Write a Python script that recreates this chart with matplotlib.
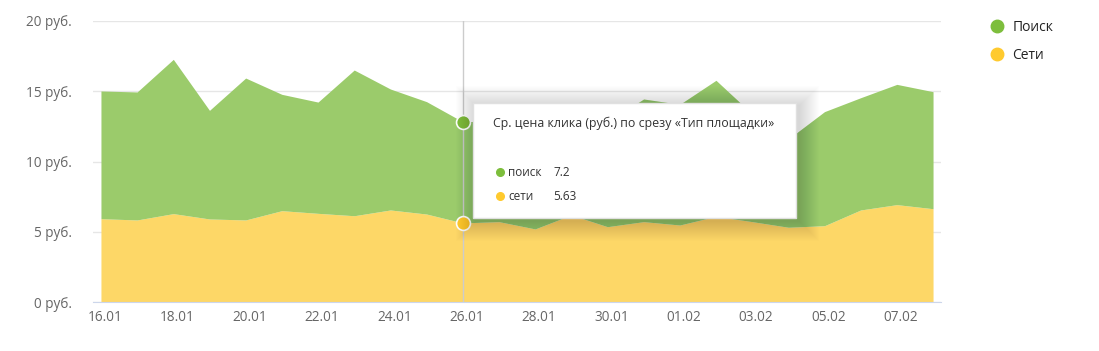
import matplotlib
matplotlib.use("Agg")
import matplotlib.pyplot as plt
import matplotlib.transforms as mtransforms
from matplotlib.patches import Rectangle
from matplotlib.lines import Line2D
import numpy as np

plt.rcParams['font.family'] = ['Open Sans', 'DejaVu Sans']

# dates 16.01 .. 08.02
dates = ['16.01', '17.01', '18.01', '19.01', '20.01', '21.01', '22.01', '23.01',
         '24.01', '25.01', '26.01', '27.01', '28.01', '29.01', '30.01', '31.01',
         '01.02', '02.02', '03.02', '04.02', '05.02', '06.02', '07.02', '08.02']
# average click price, networks (bottom layer)
seti = [5.93, 5.84, 6.29, 5.91, 5.84, 6.50, 6.31, 6.14, 6.55, 6.26, 5.63, 5.72,
        5.20, 6.20, 5.36, 5.72, 5.48, 6.10, 5.72, 5.32, 5.43, 6.55, 6.93, 6.64]
# average click price, search (stacked on top)
poisk = [9.09, 9.11, 10.98, 7.73, 10.10, 8.28, 7.92, 10.37, 8.61, 8.00, 7.20, 7.18,
         7.20, 7.10, 7.44, 8.73, 8.59, 9.68, 7.67, 6.28, 8.12, 7.99, 8.56, 8.33]
series_names = ['Поиск', 'Сети']
yticks = [0, 5, 10, 15, 20]
hover_idx = 10
tooltip_title = 'Ср. цена клика (руб.) по срезу «Тип площадки»'

green_fill = '#9bcb6b'
yellow_fill = '#fdd767'
green = '#7dbe3c'
yellow = '#ffca2e'

W, H = 1099, 351
fig = plt.figure(figsize=(W / 100, H / 100), dpi=100)
ax = fig.add_axes([93 / W, (H - 302) / H, (941 - 93) / W, (302 - 21) / H])

x = np.arange(len(dates))
seti_a = np.array(seti)
total = seti_a + np.array(poisk)

ax.fill_between(x, 0, seti_a, color=yellow_fill, lw=0, zorder=2)
ax.fill_between(x, seti_a, total, color=green_fill, lw=0, zorder=2)

ax.set_xlim(-0.22, len(dates) - 1 + 0.22)
ax.set_ylim(0, 20)
ax.set_yticks(yticks)
ax.set_yticklabels([f'{v} руб.' for v in yticks])
ax.set_xticks(x[::2])
ax.set_xticklabels(dates[::2])
ax.grid(axis='y', color='#e6e6e6', lw=1, zorder=3)
for s in ['top', 'right', 'left']:
    ax.spines[s].set_visible(False)
ax.spines['bottom'].set_color('#ccd6eb')
ax.spines['bottom'].set_zorder(4)
ax.tick_params(axis='both', length=0, colors='#666666', labelsize=9.8)
ax.tick_params(axis='y', pad=15)
ax.tick_params(axis='x', pad=6)
off = mtransforms.ScaledTranslation(4 / 100, 0, fig.dpi_scale_trans)
for lab in ax.get_xticklabels():
    lab.set_transform(lab.get_transform() + off)

# hover crosshair and markers
ax.axvline(hover_idx, color='#cccccc', lw=1, zorder=5)
ax.plot([hover_idx], [total[hover_idx]], 'o', ms=10, mfc=green, mec='white', mew=1.2, zorder=6)
ax.plot([hover_idx], [seti[hover_idx]], 'o', ms=10, mfc=yellow, mec='white', mew=1.2, zorder=6)

# tooltip with soft shadow
tx0, ty0, tx1, ty1 = 473, 103, 796, 218
for i in range(20, 0, -1):
    fig.patches.append(Rectangle(((tx0 - i + 3) / W, (H - ty1 - i - 3) / H),
                                 (tx1 - tx0 + i * 2) / W, (ty1 - ty0 + i * 2) / H,
                                 transform=fig.transFigure, color='black',
                                 alpha=0.007, lw=0, zorder=7))
fig.patches.append(Rectangle((tx0 / W, (H - ty1) / H), (tx1 - tx0) / W, (ty1 - ty0) / H,
                             transform=fig.transFigure, facecolor='white',
                             edgecolor='#e0e0e0', lw=1, zorder=8))
fig.text(493 / W, 1 - 123 / H, tooltip_title, fontsize=8.9, color='#333333',
         va='center', ha='left', zorder=9)
rows = [('поиск', poisk[hover_idx], green), ('сети', seti[hover_idx], yellow)]
for k, (name, val, col) in enumerate(rows):
    yy = 1 - (172 + 24 * k) / H
    fig.add_artist(Line2D([500 / W], [yy], transform=fig.transFigure, ls='none',
                          marker='o', ms=5.5, color=col, zorder=9))
    fig.text(508 / W, yy, name, color='#333333', fontsize=8.5, va='center', zorder=9)
    fig.text(553 / W, yy, f'{val:g}', color='#333333', fontsize=8.5, va='center', zorder=9)

# legend
handles = [Line2D([], [], ls='none', marker='o', ms=9, color=c) for c in (green, yellow)]
leg = fig.legend(handles, series_names, loc='upper left', bbox_to_anchor=(982 / W, 1 - 13 / H),
                 frameon=False, fontsize=10, handletextpad=0.5, labelspacing=0.95,
                 handlelength=1.2, borderpad=0)
for t in leg.get_texts():
    t.set_color('#222222')

fig.savefig('out.png', dpi=100)
